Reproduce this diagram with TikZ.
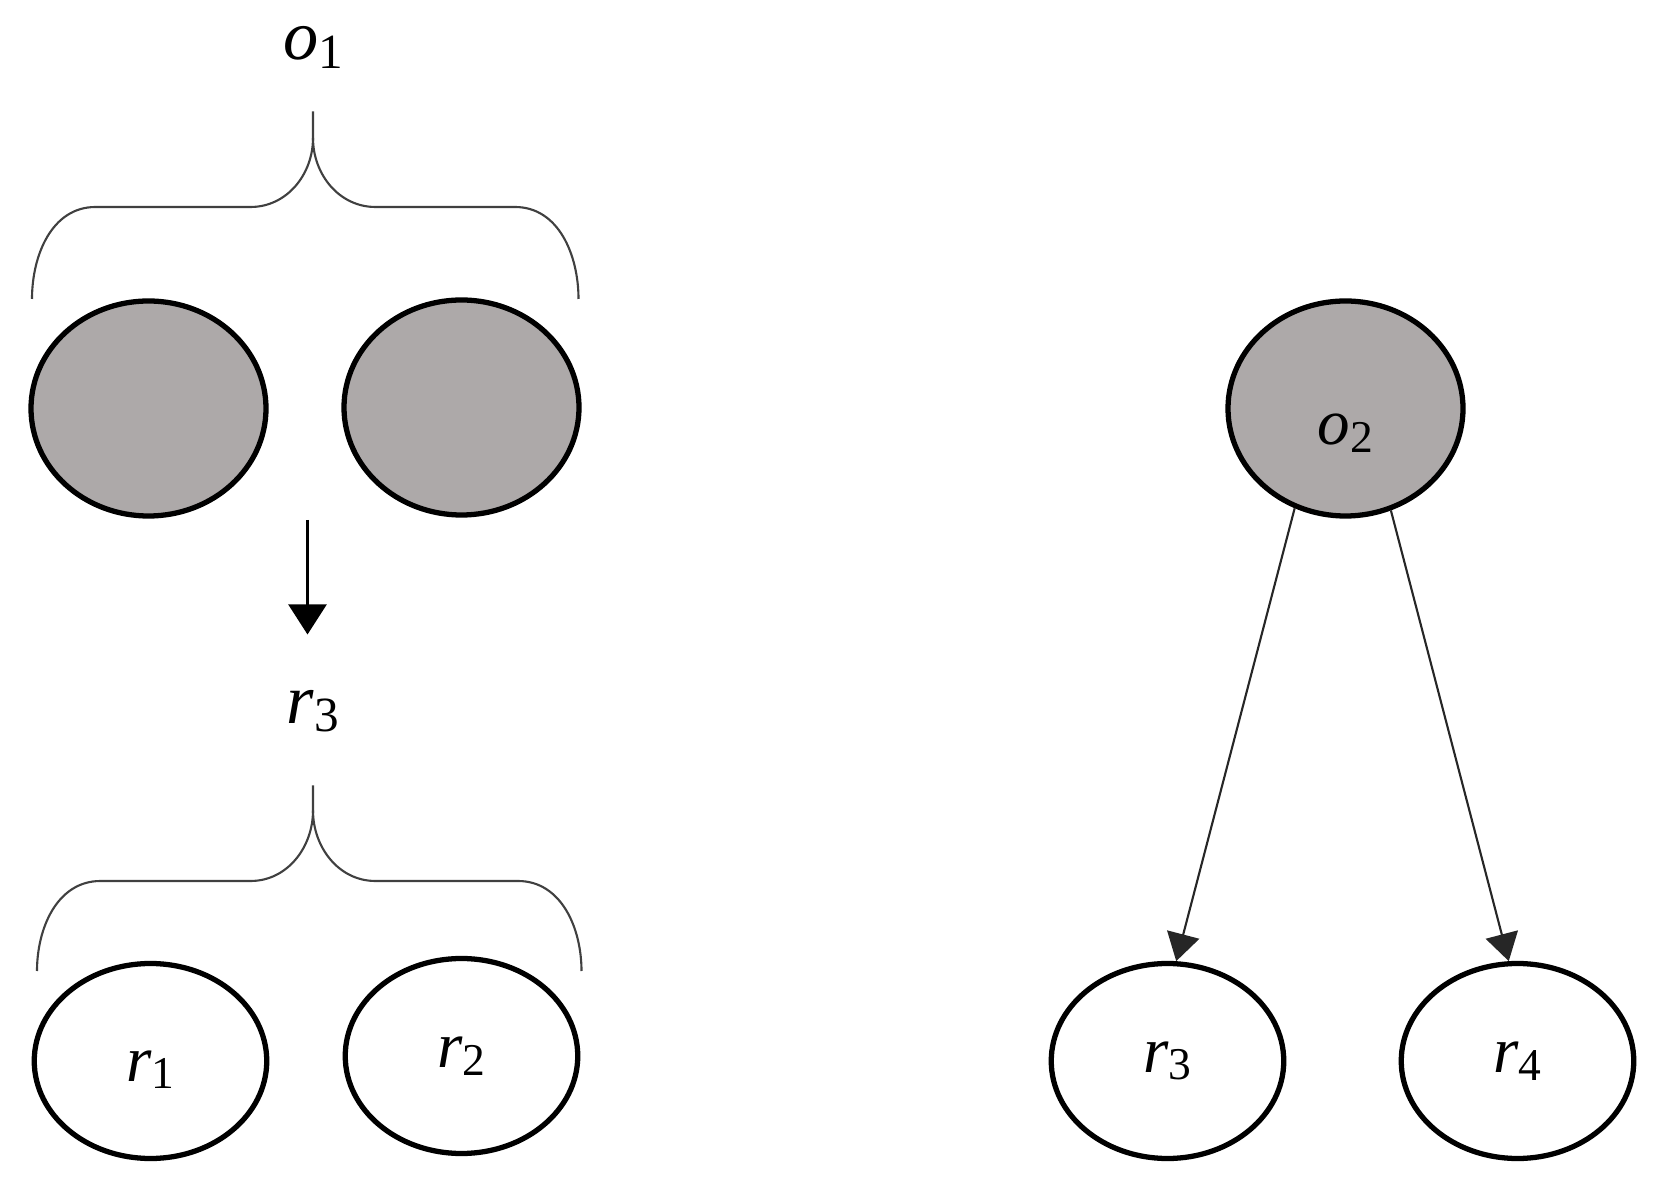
\documentclass[tikz,border=0pt]{standalone}
\usepackage{fontspec}
\setmainfont{Liberation Serif}
\usetikzlibrary{shapes.geometric,arrows.meta}
\definecolor{objgray}{RGB}{173,169,169}
\tikzset{>={Triangle[length=0.55cm,width=0.66cm]}}
\tikzset{
    obj/.style={ellipse,draw,line width=3pt,fill=objgray,minimum width=4.7cm,minimum height=4.3cm,inner sep=0pt},
    rel/.style={ellipse,draw,line width=3pt,fill=white,minimum width=4.65cm,minimum height=3.9cm,inner sep=0pt},
    brace/.style={draw=black!75,line width=1.2pt},
    lbl/.style={font=\fontsize{40}{44}\selectfont},
    inlbl/.style={font=\fontsize{37}{40}\selectfont}
}
\newcommand{\sym}[2]{\textit{#1}\raisebox{-0.12em}{\scalebox{0.7}{#2}}}

\begin{document}
\begin{tikzpicture}
    \useasboundingbox (0,0) rectangle (33.28,23.75);
    \node[obj] (o1a) at (2.97,15.58) {};
    \node[obj] (o1b) at (9.23,15.60) {};
    \node[lbl] (o1) at (6.26,22.80) {\sym{o}{1}};
    \draw[brace] (0.64,17.77) to[out=90,in=180] (1.91,19.61) -- (5.01,19.61) to[out=0,in=270] (6.26,20.99) -- (6.26,21.52);
    \draw[brace] (11.57,17.77) to[out=90,in=0] (10.30,19.61) -- (7.51,19.61) to[out=180,in=270] (6.26,20.99);
    \coordinate (split) at (6.15,13.35);
    \coordinate (join) at (6.15,11.06);
    \draw[-{Triangle[length=0.6cm,width=0.76cm]},line width=1.3pt] (split) -- (join);
    \node[lbl] (r3l) at (6.26,9.53) {\sym{r}{3}};
    \draw[brace] (0.74,4.33) to[out=90,in=180] (2.01,6.13) -- (5.01,6.13) to[out=0,in=270] (6.26,7.54) -- (6.26,8.04);
    \draw[brace] (11.63,4.33) to[out=90,in=0] (10.36,6.13) -- (7.51,6.13) to[out=180,in=270] (6.26,7.54);
    \node[rel,inlbl] (r1) at (3.01,2.53) {\raisebox{-0.31em}[0pt][0pt]{\sym{r}{1}}};
    \node[rel,inlbl] (r2) at (9.23,2.63) {\sym{r}{2}};
    \node[obj,inlbl] (o2) at (26.91,15.58) {\raisebox{-0.55em}[0pt][0pt]{\sym{o}{2}}};
    \node[rel,inlbl] (r3) at (23.35,2.53) {\sym{r}{3}};
    \node[rel,inlbl] (r4) at (30.35,2.53) {\sym{r}{4}};
    \draw[->,draw=black!85,line width=1.2pt] (o2.243) -- (r3.85);
    \draw[->,draw=black!85,line width=1.2pt] (o2.294) -- (r4.95);
\end{tikzpicture}
\end{document}
